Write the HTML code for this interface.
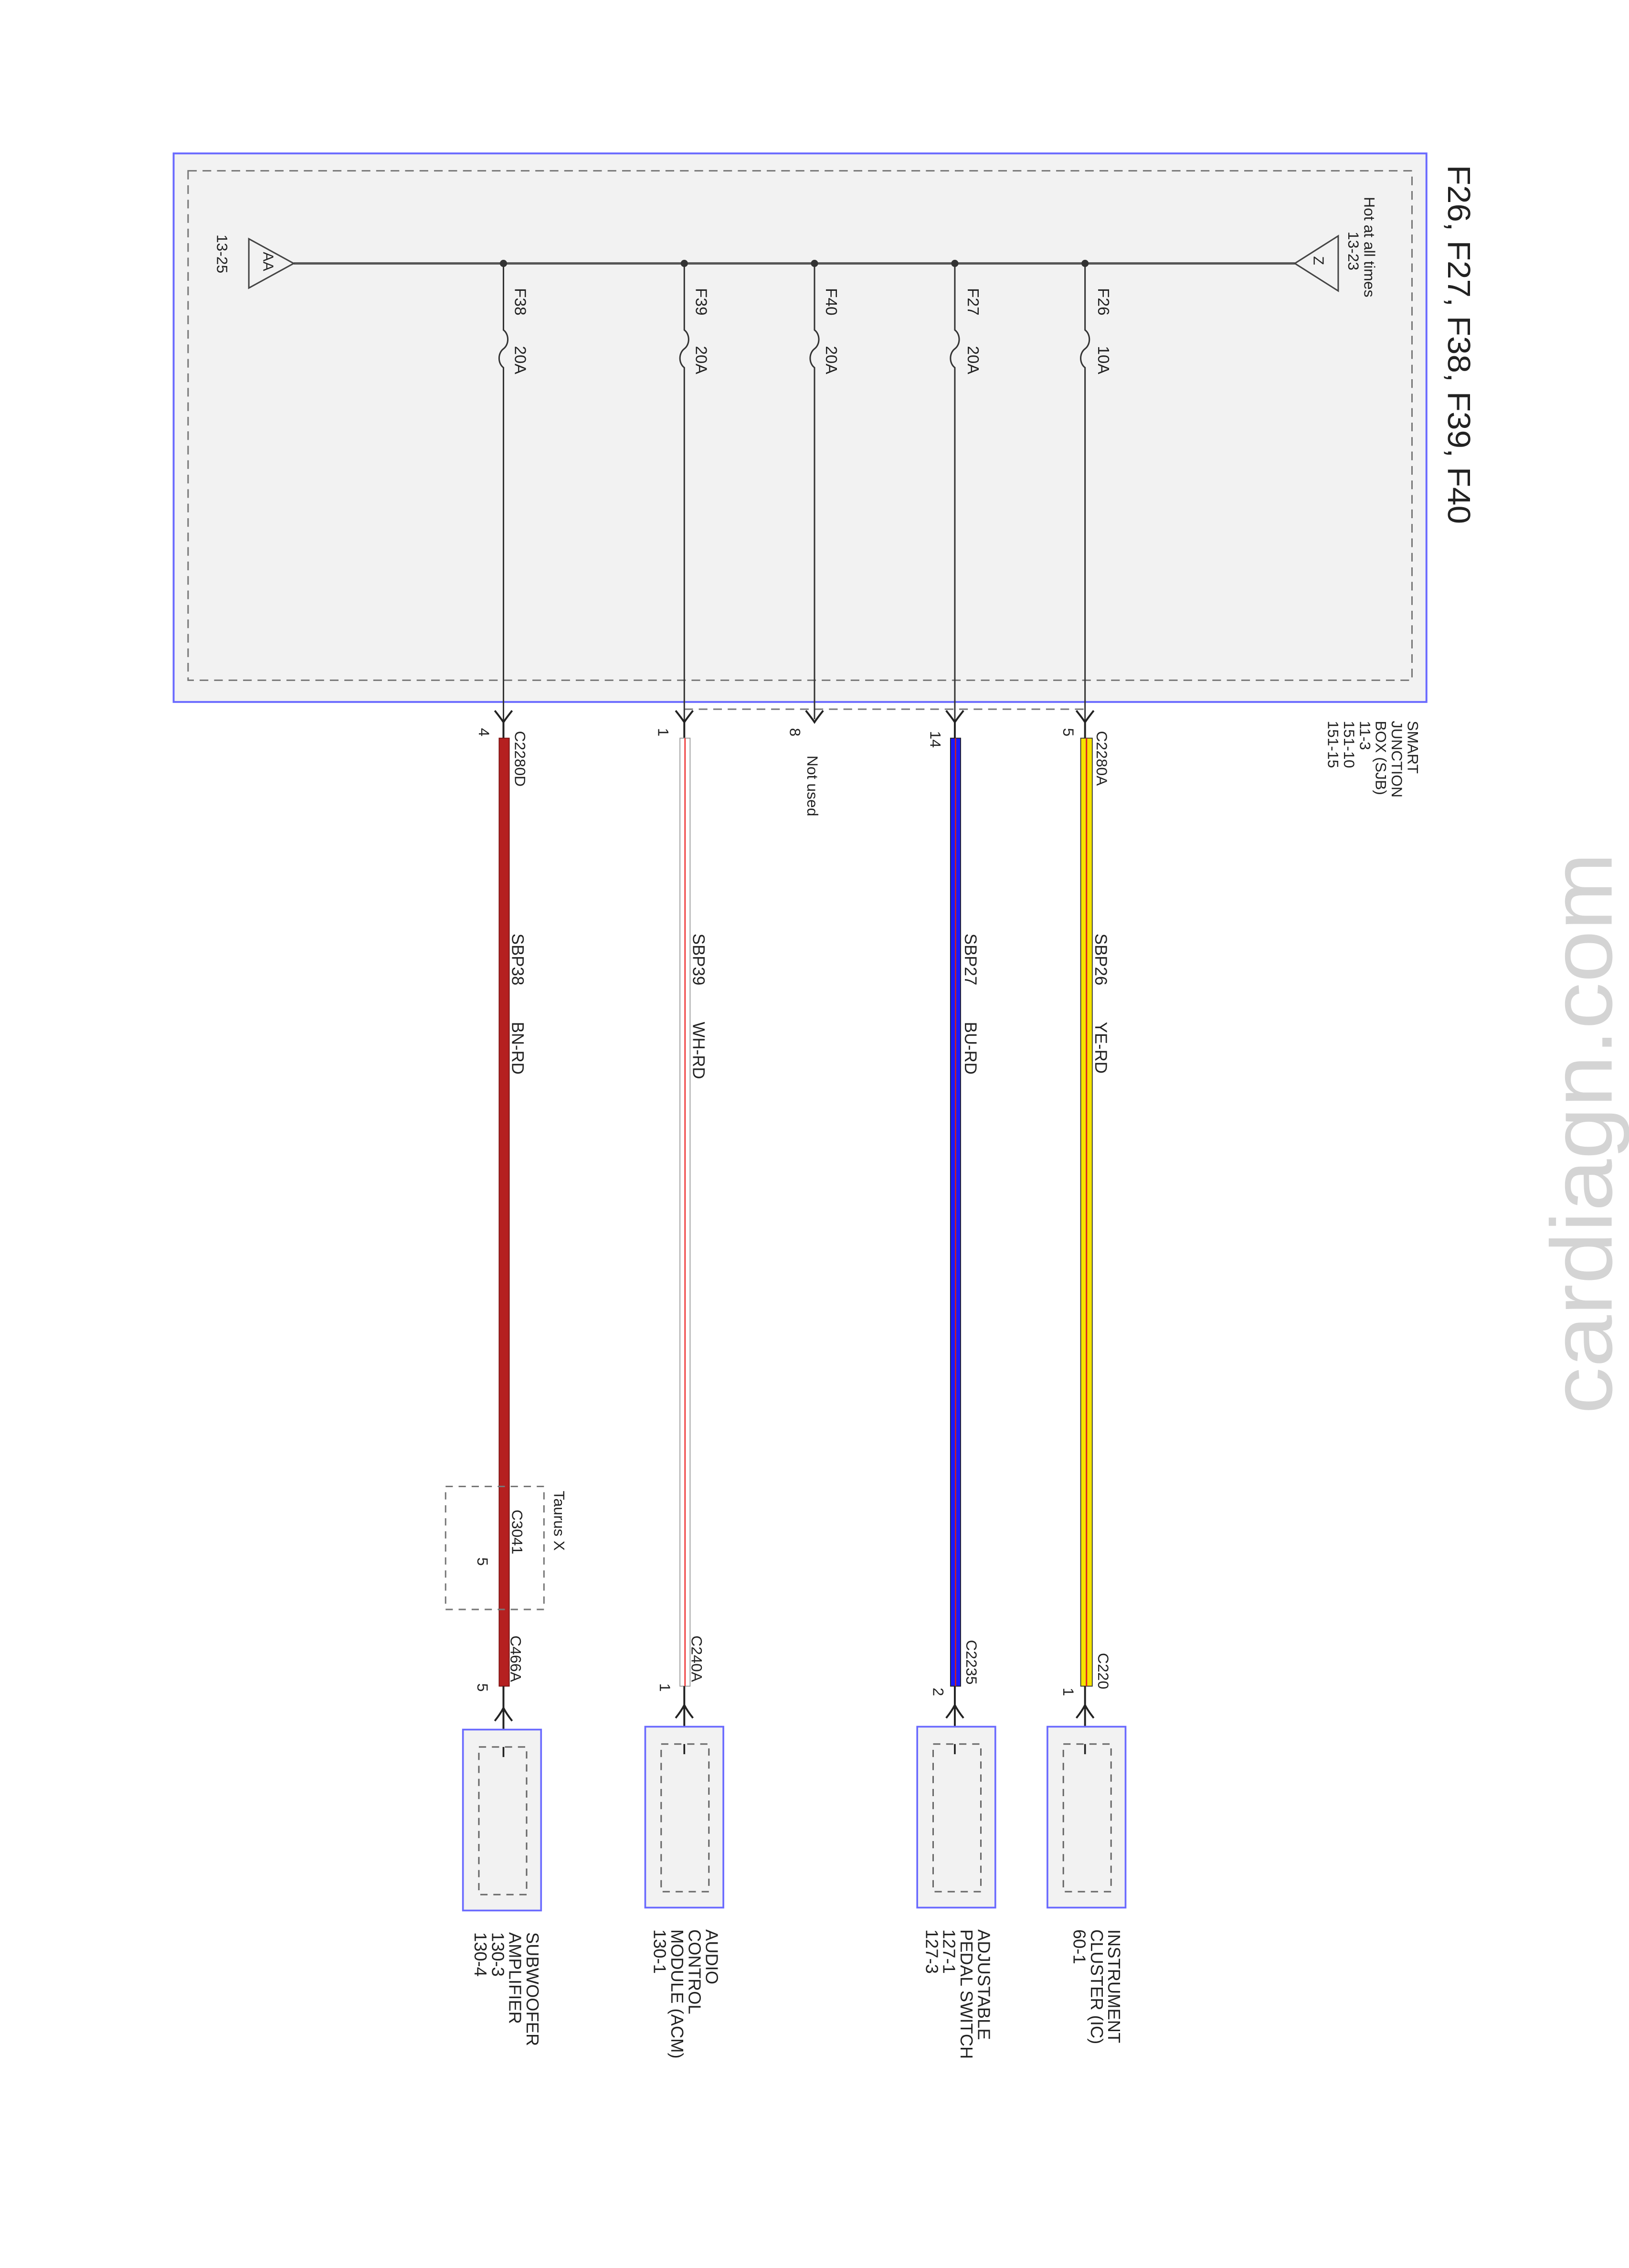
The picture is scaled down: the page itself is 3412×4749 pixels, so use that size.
<!DOCTYPE html>
<html><head><meta charset="utf-8"><style>
html,body{margin:0;padding:0;background:#fff;}
svg{display:block;}
text{font-family:"Liberation Sans",sans-serif;fill:#222;}
</style></head><body>
<svg width="3412" height="4749" viewBox="0 0 1126 1567" preserveAspectRatio="none" xmlns="http://www.w3.org/2000/svg">
<rect width="1140" height="1587" fill="#fff"/>
<!-- SJB box -->
<rect x="120" y="106" width="866" height="379" fill="#f2f2f2" stroke="#6a6aff" stroke-width="1.3"/>
<rect x="130" y="118" width="846" height="352" fill="none" stroke="#777" stroke-width="1" stroke-dasharray="6,4"/>
<path d="M473 490 H750" fill="none" stroke="#777" stroke-width="1" stroke-dasharray="6,4"/>
<!-- bus -->
<line x1="203" y1="182" x2="895" y2="182" stroke="#555" stroke-width="1.6"/>
<polygon points="895,182 925,163 925,201" fill="none" stroke="#444" stroke-width="1"/>
<text transform="translate(908,177) rotate(90)" font-size="10">Z</text>
<polygon points="203,182 172,165 172,199" fill="none" stroke="#444" stroke-width="1"/>
<text transform="translate(182,174) rotate(90)" font-size="10">AA</text>
<text transform="translate(943,136) rotate(90)" font-size="10.5">Hot at all times</text>
<text transform="translate(932,160) rotate(90)" font-size="10.5">13-23</text>
<text transform="translate(150,162) rotate(90)" font-size="10.5">13-25</text>
<text transform="translate(1001,114) rotate(90)" font-size="22" textLength="248" lengthAdjust="spacingAndGlyphs">F26, F27, F38, F39, F40</text>
<!-- fuses -->
<g stroke="#333" stroke-width="1" fill="none">
<path d="M750 182 V228 c4 3 4 10 0 13 c-4 3 -4 10 0 13 V497"/>
<path d="M660 182 V228 c4 3 4 10 0 13 c-4 3 -4 10 0 13 V497"/>
<path d="M563 182 V228 c4 3 4 10 0 13 c-4 3 -4 10 0 13 V497"/>
<path d="M473 182 V228 c4 3 4 10 0 13 c-4 3 -4 10 0 13 V497"/>
<path d="M348 182 V228 c4 3 4 10 0 13 c-4 3 -4 10 0 13 V497"/>
</g>
<g fill="#333">
<circle cx="750" cy="182" r="2.5"/><circle cx="660" cy="182" r="2.5"/><circle cx="563" cy="182" r="2.5"/><circle cx="473" cy="182" r="2.5"/><circle cx="348" cy="182" r="2.5"/>
</g>
<g font-size="11">
<text transform="translate(759,199) rotate(90)">F26</text><text transform="translate(759,239) rotate(90)">10A</text>
<text transform="translate(669,199) rotate(90)">F27</text><text transform="translate(669,239) rotate(90)">20A</text>
<text transform="translate(571,199) rotate(90)">F40</text><text transform="translate(571,239) rotate(90)">20A</text>
<text transform="translate(481,199) rotate(90)">F39</text><text transform="translate(481,239) rotate(90)">20A</text>
<text transform="translate(356,199) rotate(90)">F38</text><text transform="translate(356,239) rotate(90)">20A</text>
</g>
<!-- top connector arrows -->
<g stroke="#222" stroke-width="1.3" fill="none">
<path d="M744 491 Q748 496 750 499 Q752 496 756 491"/>
<path d="M654 491 Q658 496 660 499 Q662 496 666 491"/>
<path d="M557 491 Q561 496 563 499 Q565 496 569 491"/>
<path d="M467 491 Q471 496 473 499 Q475 496 479 491"/>
<path d="M342 491 Q346 496 348 499 Q350 496 354 491"/>
<path d="M750 497 V510 M660 497 V510 M473 497 V510 M348 497 V510"/>
</g>
<!-- wires -->
<rect x="747" y="510" width="8" height="655" fill="#f5e400" stroke="#333" stroke-width="0.6"/>
<line x1="751" y1="510" x2="751" y2="1165" stroke="#d22" stroke-width="1"/>
<rect x="657" y="510" width="7" height="655" fill="#1a1aff" stroke="#222" stroke-width="0.6"/>
<line x1="660.5" y1="510" x2="660.5" y2="1165" stroke="#c22" stroke-width="0.9"/>
<rect x="470" y="510" width="7" height="655" fill="#fff" stroke="#999" stroke-width="0.6"/>
<line x1="473.5" y1="510" x2="473.5" y2="1165" stroke="#e33" stroke-width="0.9"/>
<rect x="345" y="510" width="7" height="655" fill="#b52020" stroke="#7a1010" stroke-width="0.6"/>
<!-- top connector labels -->
<g font-size="10.5">
<text transform="translate(758,505) rotate(90)">C2280A</text>
<text transform="translate(735,503) rotate(90)">5</text>
<text transform="translate(643,505) rotate(90)">14</text>
<text transform="translate(546,503) rotate(90)">8</text>
<text transform="translate(558,522) rotate(90)">Not used</text>
<text transform="translate(455,503) rotate(90)">1</text>
<text transform="translate(356,505) rotate(90)">C2280D</text>
<text transform="translate(331,503) rotate(90)">4</text>
<text transform="translate(973,498) rotate(90)">SMART</text>
<text transform="translate(962,498) rotate(90)">JUNCTION</text>
<text transform="translate(951,498) rotate(90)">BOX (SJB)</text>
<text transform="translate(940,498) rotate(90)">11-3</text>
<text transform="translate(929,498) rotate(90)">151-10</text>
<text transform="translate(918,498) rotate(90)">151-15</text>
</g>
<g font-size="11.5">
<text transform="translate(757,645) rotate(90)">SBP26</text><text transform="translate(757,706) rotate(90)">YE-RD</text>
<text transform="translate(667,645) rotate(90)">SBP27</text><text transform="translate(667,706) rotate(90)">BU-RD</text>
<text transform="translate(479,645) rotate(90)">SBP39</text><text transform="translate(479,706) rotate(90)">WH-RD</text>
<text transform="translate(354,645) rotate(90)">SBP38</text><text transform="translate(354,706) rotate(90)">BN-RD</text>
</g>
<!-- Taurus X -->
<rect x="308" y="1027" width="68" height="85" fill="none" stroke="#777" stroke-width="1" stroke-dasharray="5,4"/>
<g font-size="10.5">
<text transform="translate(383,1030) rotate(90)">Taurus X</text>
<text transform="translate(354,1043) rotate(90)">C3041</text>
<text transform="translate(330,1076) rotate(90)">5</text>
<text transform="translate(759,1142) rotate(90)">C220</text><text transform="translate(735,1166) rotate(90)">1</text>
<text transform="translate(668,1133) rotate(90)">C2235</text><text transform="translate(645,1166) rotate(90)">2</text>
<text transform="translate(478,1130) rotate(90)">C240A</text><text transform="translate(456,1163) rotate(90)">1</text>
<text transform="translate(353,1130) rotate(90)">C466A</text><text transform="translate(330,1163) rotate(90)">5</text>
</g>
<!-- bottom connectors -->
<g stroke="#222" stroke-width="1.3" fill="none">
<path d="M744 1187 Q748 1182 750 1178 Q752 1182 756 1187 M750 1165 V1205"/>
<path d="M654 1187 Q658 1182 660 1178 Q662 1182 666 1187 M660 1165 V1205"/>
<path d="M467 1187 Q471 1182 473 1178 Q475 1182 479 1187 M473 1165 V1205"/>
<path d="M342 1189 Q346 1184 348 1180 Q350 1184 354 1189 M348 1165 V1207"/>
</g>
<!-- components -->
<g fill="#f2f2f2" stroke="#6a6aff" stroke-width="1.2">
<rect x="724" y="1193" width="54" height="125"/>
<rect x="634" y="1193" width="54" height="125"/>
<rect x="446" y="1193" width="54" height="125"/>
<rect x="320" y="1195" width="54" height="125"/>
</g>
<g fill="none" stroke="#666" stroke-width="1" stroke-dasharray="5,4">
<rect x="735" y="1205" width="33" height="102"/>
<rect x="645" y="1205" width="33" height="102"/>
<rect x="457" y="1205" width="33" height="102"/>
<rect x="331" y="1207" width="33" height="102"/>
</g>
<g stroke="#222" stroke-width="1.2">
<path d="M750 1205 V1212 M660 1205 V1212 M473 1205 V1212 M348 1207 V1214"/>
</g>
<g font-size="12">
<text transform="translate(766,1333) rotate(90)">INSTRUMENT</text>
<text transform="translate(754,1333) rotate(90)">CLUSTER (IC)</text>
<text transform="translate(742,1333) rotate(90)">60-1</text>
<text transform="translate(676,1333) rotate(90)">ADJUSTABLE</text>
<text transform="translate(664,1333) rotate(90)">PEDAL SWITCH</text>
<text transform="translate(652,1333) rotate(90)">127-1</text>
<text transform="translate(640,1333) rotate(90)">127-3</text>
<text transform="translate(488,1333) rotate(90)">AUDIO</text>
<text transform="translate(476,1333) rotate(90)">CONTROL</text>
<text transform="translate(464,1333) rotate(90)">MODULE (ACM)</text>
<text transform="translate(452,1333) rotate(90)">130-1</text>
<text transform="translate(364,1335) rotate(90)">SUBWOOFER</text>
<text transform="translate(352,1335) rotate(90)">AMPLIFIER</text>
<text transform="translate(340,1335) rotate(90)">130-3</text>
<text transform="translate(328,1335) rotate(90)">130-4</text>
</g>
<!-- watermark -->
<text transform="translate(1114,977) rotate(-90)" font-size="60" style="fill:#d4d4d4" textLength="388" lengthAdjust="spacingAndGlyphs">cardiagn.com</text>
</svg>
</body></html>
